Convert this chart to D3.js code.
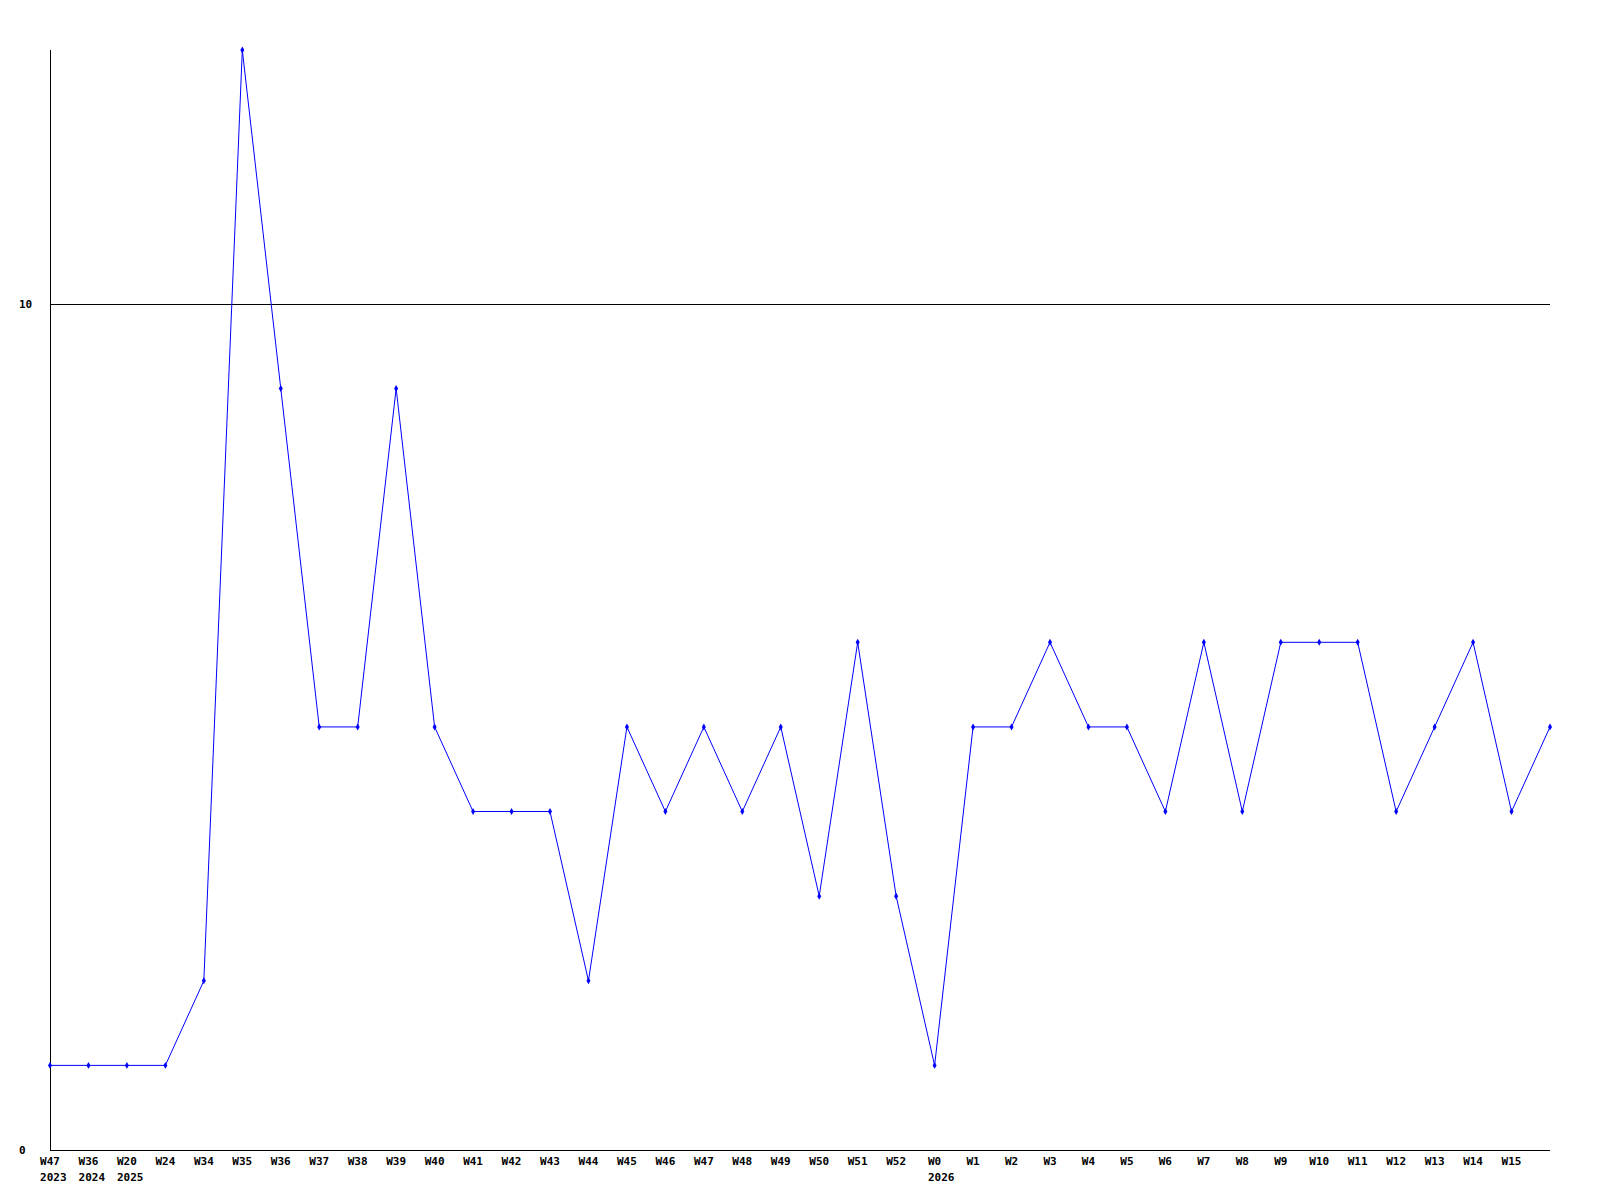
<!DOCTYPE html>
<html>
<head>
<meta charset="utf-8">
<script src="https://cdn.jsdelivr.net/npm/d3@7"></script>
<style>
  body { margin: 0; background: #fff; }
  text { font-family: "DejaVu Sans Mono", monospace; font-size: 11px; font-weight: bold; fill: #000; }
</style>
</head>
<body>
<svg id="chart"></svg>
<script>
const weeks = ["W47","W36","W20","W24","W34","W35","W36","W37","W38","W39","W40","W41","W42","W43","W44","W45","W46","W47","W48","W49","W50","W51","W52","W0","W1","W2","W3","W4","W5","W6","W7","W8","W9","W10","W11","W12","W13","W14","W15",""];
const years = {0: "2023", 1: "2024", 2: "2025", 23: "2026"};
const counts = [1,1,1,1,2,13,9,5,5,9,5,4,4,4,2,5,4,5,4,5,3,6,3,1,5,5,6,5,5,4,6,4,6,6,6,4,5,6,4,5];
const yTicks = [0, 10];

const w = 1600;
const h = 1200;
const pLeft = 50, pRight = 1550, pTop = 50, pBottom = 1150;

const svg = d3.select("#chart").attr("width", w).attr("height", h);

const x = d3.scaleLinear().domain([0, counts.length - 1]).range([pLeft, pRight]);
const y = d3.scaleLinear().domain([0, 13]).range([pBottom, pTop]);

// grid line at 10 and y labels
svg.selectAll("line.grid").data(yTicks.filter(d => d > 0)).enter().append("line")
    .attr("x1", pLeft).attr("x2", pRight)
    .attr("y1", d => Math.round(y(d)) + 0.5).attr("y2", d => Math.round(y(d)) + 0.5)
    .attr("stroke", "#000").attr("shape-rendering", "crispEdges");

svg.selectAll("text.ylab").data(yTicks).enter().append("text")
    .attr("x", 19).attr("y", d => Math.round(y(d)) + 4)
    .text(d => d);

// axes
svg.append("line").attr("x1", pLeft + 0.5).attr("x2", pLeft + 0.5).attr("y1", pTop).attr("y2", pBottom)
    .attr("stroke", "#000").attr("shape-rendering", "crispEdges");
svg.append("line").attr("x1", pLeft).attr("x2", pRight).attr("y1", pBottom + 0.5).attr("y2", pBottom + 0.5)
    .attr("stroke", "#000").attr("shape-rendering", "crispEdges");

// x labels
weeks.forEach((wk, i) => {
    if (!wk) return;
    const t = svg.append("text").attr("x", x(i)).attr("y", 1165).attr("text-anchor", "middle").text(wk);
    if (years[i]) {
        const len = t.node().getComputedTextLength();
        svg.append("text").attr("x", x(i) - len / 2).attr("y", 1181).text(years[i]);
    }
});

// line
const line = d3.line().x((d, i) => x(i)).y(d => y(d));
svg.append("path").datum(counts).attr("d", line)
    .attr("fill", "none").attr("stroke", "#0000ff").attr("stroke-width", 1);

// markers
svg.selectAll("path.mark").data(counts).enter().append("path")
    .attr("d", d3.symbol(d3.symbolDiamond, 14))
    .attr("transform", (d, i) => `translate(${x(i)},${y(d)})`)
    .attr("fill", "#0000ff");
</script>
</body>
</html>
